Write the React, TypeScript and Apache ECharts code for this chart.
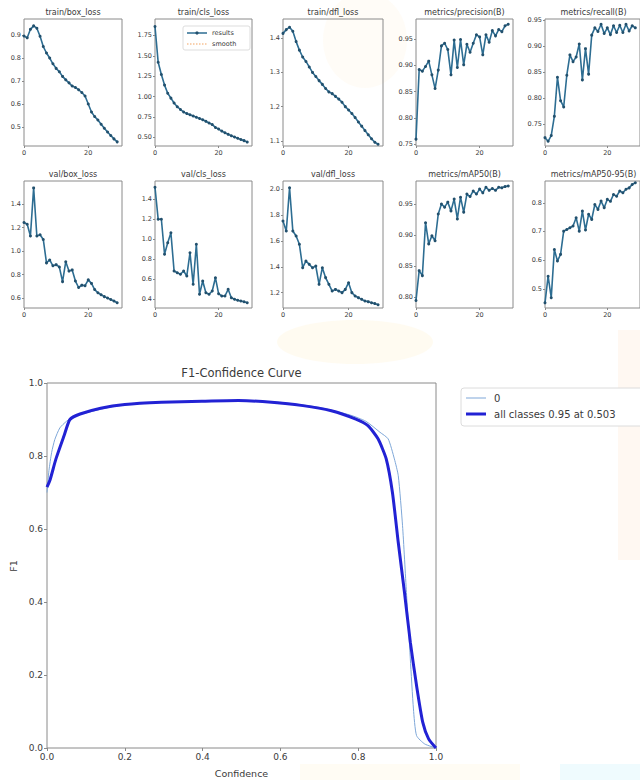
import React, { useEffect, useRef } from "react";
import * as echarts from "echarts";

const epochs = [0, 1, 2, 3, 4, 5, 6, 7, 8, 9, 10, 11, 12, 13, 14, 15, 16, 17, 18, 19, 20, 21, 22, 23, 24, 25, 26, 27, 28, 29];

const trainBoxLoss = [0.896, 0.888, 0.925, 0.94, 0.93, 0.895, 0.85, 0.822, 0.8, 0.775, 0.755, 0.74, 0.72, 0.705, 0.692, 0.678, 0.672, 0.662, 0.65, 0.635, 0.6, 0.565, 0.545, 0.53, 0.512, 0.494, 0.478, 0.463, 0.448, 0.435];
const trainClsLoss = [1.86, 1.42, 1.27, 1.14, 1.04, 0.98, 0.92, 0.875, 0.84, 0.81, 0.79, 0.775, 0.76, 0.745, 0.73, 0.715, 0.695, 0.675, 0.655, 0.62, 0.6, 0.575, 0.555, 0.535, 0.518, 0.502, 0.488, 0.472, 0.458, 0.44];
const trainDflLoss = [1.414, 1.425, 1.432, 1.42, 1.39, 1.365, 1.345, 1.332, 1.316, 1.3, 1.288, 1.276, 1.265, 1.253, 1.243, 1.238, 1.23, 1.222, 1.213, 1.2, 1.19, 1.18, 1.168, 1.155, 1.143, 1.13, 1.118, 1.106, 1.096, 1.09];
const precisionB = [0.76, 0.892, 0.889, 0.898, 0.908, 0.882, 0.856, 0.891, 0.937, 0.942, 0.93, 0.882, 0.948, 0.896, 0.949, 0.901, 0.94, 0.925, 0.942, 0.958, 0.954, 0.92, 0.958, 0.944, 0.966, 0.956, 0.968, 0.964, 0.975, 0.978];
const recallB = [0.724, 0.717, 0.728, 0.765, 0.84, 0.795, 0.783, 0.844, 0.883, 0.87, 0.879, 0.904, 0.835, 0.895, 0.846, 0.921, 0.935, 0.928, 0.942, 0.924, 0.935, 0.922, 0.939, 0.926, 0.94, 0.926, 0.942, 0.929, 0.939, 0.935];
const valBoxLoss = [1.245, 1.23, 1.13, 1.54, 1.13, 1.14, 1.1, 0.9, 0.925, 0.875, 0.885, 0.865, 0.74, 0.91, 0.83, 0.84, 0.745, 0.69, 0.71, 0.705, 0.755, 0.725, 0.672, 0.645, 0.628, 0.612, 0.6, 0.588, 0.575, 0.56];
const valClsLoss = [1.52, 1.2, 1.2, 0.85, 0.966, 1.066, 0.683, 0.666, 0.65, 0.683, 0.633, 0.866, 0.55, 0.95, 0.45, 0.583, 0.466, 0.45, 0.483, 0.616, 0.456, 0.433, 0.433, 0.5, 0.416, 0.4, 0.39, 0.383, 0.376, 0.366];
const valDflLoss = [1.754, 1.677, 2.012, 1.677, 1.638, 1.574, 1.393, 1.445, 1.419, 1.393, 1.406, 1.264, 1.393, 1.316, 1.264, 1.212, 1.225, 1.212, 1.2, 1.225, 1.277, 1.2, 1.174, 1.161, 1.148, 1.135, 1.13, 1.122, 1.115, 1.106];
const mAP50B = [0.795, 0.843, 0.835, 0.92, 0.886, 0.899, 0.891, 0.934, 0.95, 0.945, 0.953, 0.939, 0.958, 0.926, 0.961, 0.937, 0.966, 0.962, 0.971, 0.966, 0.974, 0.968, 0.977, 0.972, 0.975, 0.972, 0.977, 0.976, 0.978, 0.979];
const mAP5095B = [0.451, 0.544, 0.469, 0.637, 0.597, 0.62, 0.701, 0.707, 0.713, 0.719, 0.748, 0.701, 0.771, 0.705, 0.76, 0.742, 0.794, 0.777, 0.806, 0.783, 0.812, 0.805, 0.829, 0.823, 0.841, 0.835, 0.847, 0.852, 0.864, 0.87];

// F1-Confidence curve, class "0"
const conf0 = [0, 0.005, 0.012, 0.02, 0.033, 0.05, 0.07, 0.1, 0.15, 0.2, 0.3, 0.4, 0.5, 0.6, 0.7, 0.78, 0.82, 0.856, 0.877, 0.893, 0.903, 0.914, 0.924, 0.934, 0.942, 0.95, 0.971, 1.0];
const f10 = [0.7, 0.76, 0.81, 0.845, 0.877, 0.895, 0.908, 0.918, 0.931, 0.94, 0.947, 0.95, 0.952, 0.947, 0.933, 0.912, 0.895, 0.865, 0.847, 0.792, 0.746, 0.609, 0.426, 0.244, 0.107, 0.034, 0.011, 0.0];
// all classes
const confAll = [0, 0.008, 0.023, 0.044, 0.059, 0.085, 0.138, 0.2, 0.294, 0.398, 0.492, 0.554, 0.658, 0.731, 0.794, 0.825, 0.851, 0.872, 0.888, 0.903, 0.919, 0.934, 0.95, 0.966, 0.981, 1.0];
const f1All = [0.715, 0.735, 0.792, 0.856, 0.9, 0.915, 0.931, 0.941, 0.947, 0.95, 0.952, 0.949, 0.938, 0.924, 0.901, 0.883, 0.847, 0.792, 0.7, 0.563, 0.426, 0.29, 0.171, 0.07, 0.025, 0.0];

const xTicks = [0, 20];
const mainLegend = ["0", "all classes 0.95 at 0.503"];
const smallLegend = ["results", "smooth"];

const FONT = "'DejaVu Sans', sans-serif";
const TXT = "#3a3a3a";
const FRAME = "#8a8a8a";

const panels = [
  { title: "train/box_loss", data: trainBoxLoss, yMin: 0.417, yMax: 0.97, step: 0.1, dec: 1, left: 24, top: 19, width: 98 },
  { title: "train/cls_loss", data: trainClsLoss, yMin: 0.392, yMax: 1.952, step: 0.25, dec: 2, left: 155, top: 19, width: 97 },
  { title: "train/dfl_loss", data: trainDflLoss, yMin: 1.085, yMax: 1.456, step: 0.1, dec: 1, left: 283, top: 19, width: 100 },
  { title: "metrics/precision(B)", data: precisionB, yMin: 0.747, yMax: 0.988, step: 0.05, dec: 2, left: 416, top: 19, width: 97 },
  { title: "metrics/recall(B)", data: recallB, yMin: 0.708, yMax: 0.952, step: 0.05, dec: 2, left: 545, top: 19, width: 97 },
  { title: "val/box_loss", data: valBoxLoss, yMin: 0.515, yMax: 1.599, step: 0.2, dec: 1, left: 24, top: 181, width: 98 },
  { title: "val/cls_loss", data: valClsLoss, yMin: 0.313, yMax: 1.583, step: 0.2, dec: 1, left: 155, top: 181, width: 97 },
  { title: "val/dfl_loss", data: valDflLoss, yMin: 1.081, yMax: 2.064, step: 0.2, dec: 1, left: 283, top: 181, width: 100 },
  { title: "metrics/mAP50(B)", data: mAP50B, yMin: 0.783, yMax: 0.987, step: 0.05, dec: 2, left: 416, top: 181, width: 97 },
  { title: "metrics/mAP50-95(B)", data: mAP5095B, yMin: 0.433, yMax: 0.876, step: 0.1, dec: 1, left: 545, top: 181, width: 97 },
];
const PANEL_H = 127;
const MAIN = { left: 47, top: 383, width: 389, height: 365 };

function buildOption() {
  const grids: any[] = [];
  const xAxes: any[] = [];
  const yAxes: any[] = [];
  const series: any[] = [];
  const graphic: any[] = [];

  // very faint watermark tints
  graphic.push(
    { type: "ellipse", shape: { cx: 365, cy: 40, rx: 42, ry: 48 }, style: { fill: "rgba(255,205,90,0.05)" }, z: -1, silent: true },
    { type: "ellipse", shape: { cx: 355, cy: 342, rx: 78, ry: 22 }, style: { fill: "rgba(255,212,120,0.10)" }, z: -1, silent: true },
    { type: "rect", shape: { x: 618, y: 330, width: 22, height: 230 }, style: { fill: "rgba(250,180,110,0.09)" }, z: -1, silent: true },
    { type: "rect", shape: { x: 300, y: 764, width: 220, height: 16 }, style: { fill: "rgba(255,220,130,0.09)" }, z: -1, silent: true },
    { type: "rect", shape: { x: 560, y: 764, width: 80, height: 16 }, style: { fill: "rgba(140,225,245,0.14)" }, z: -1, silent: true }
  );

  panels.forEach((p, i) => {
    grids.push({ left: p.left, top: p.top, width: p.width, height: PANEL_H, show: true, borderColor: FRAME, borderWidth: 1, backgroundColor: "transparent" });
    xAxes.push({
      type: "value", gridIndex: i, min: 0, max: 30.5, interval: 20,
      axisLine: { show: false }, splitLine: { show: false },
      axisTick: { show: true, length: 2, lineStyle: { color: FRAME } },
      axisLabel: {
        fontSize: 6.5, color: TXT, fontFamily: FONT, margin: 3, showMaxLabel: false,
        formatter: (v: number) => (xTicks.indexOf(v) >= 0 ? String(v) : ""),
      },
    });
    const step = p.step;
    const dec = p.dec;
    yAxes.push({
      type: "value", gridIndex: i, min: p.yMin, max: p.yMax, minInterval: step, maxInterval: step, splitNumber: 5,
      axisLine: { show: false }, splitLine: { show: false },
      axisTick: { show: true, length: 2, lineStyle: { color: FRAME } },
      axisLabel: {
        fontSize: 6.5, color: TXT, fontFamily: FONT, margin: 3, showMinLabel: false, showMaxLabel: false,
        formatter: (v: number) => {
          const k = v / step;
          return Math.abs(k - Math.round(k)) < 1e-6 ? v.toFixed(dec) : "";
        },
      },
    });
    series.push({
      type: "line", name: smallLegend[0], xAxisIndex: i, yAxisIndex: i,
      data: epochs.map((e, j) => [e, p.data[j]]),
      symbol: "circle", symbolSize: 3, showSymbol: true,
      lineStyle: { color: "#2d6d92", width: 1.6 },
      itemStyle: { color: "#22506d" },
      emphasis: { disabled: true }, z: 3,
    });
    graphic.push({
      type: "text", x: p.left + p.width / 2, y: p.top - 7,
      style: { text: p.title, fontSize: 8, fontFamily: FONT, fill: TXT, textAlign: "center", align: "center", textVerticalAlign: "middle", verticalAlign: "middle" },
    });
  });

  // legend inside train/cls_loss
  graphic.push(
    { type: "rect", shape: { x: 183, y: 26, width: 67, height: 24, r: 2 }, style: { fill: "rgba(255,255,255,0.85)", stroke: "#dddddd", lineWidth: 1 }, z: 5 },
    { type: "line", shape: { x1: 187, y1: 33, x2: 207, y2: 33 }, style: { stroke: "#2d6d92", lineWidth: 1.5 }, z: 6 },
    { type: "circle", shape: { cx: 197, cy: 33, r: 1.6 }, style: { fill: "#22506d" }, z: 6 },
    { type: "line", shape: { x1: 187, y1: 44, x2: 207, y2: 44 }, style: { stroke: "#f4a460", lineWidth: 1.2, lineDash: [1.5, 1.5] }, z: 6 },
    { type: "text", x: 212, y: 33, style: { text: smallLegend[0], fontSize: 6.5, fontFamily: FONT, fill: TXT, textVerticalAlign: "middle", verticalAlign: "middle" }, z: 6 },
    { type: "text", x: 212, y: 44, style: { text: smallLegend[1], fontSize: 6.5, fontFamily: FONT, fill: TXT, textVerticalAlign: "middle", verticalAlign: "middle" }, z: 6 }
  );

  // main F1 chart
  const mi = panels.length;
  grids.push({ left: MAIN.left, top: MAIN.top, width: MAIN.width, height: MAIN.height, show: true, borderColor: FRAME, borderWidth: 1, backgroundColor: "transparent" });
  xAxes.push({
    type: "value", gridIndex: mi, min: 0, max: 1, interval: 0.2,
    axisLine: { show: false }, splitLine: { show: false },
    axisTick: { show: true, length: 3, lineStyle: { color: FRAME } },
    axisLabel: { fontSize: 9, color: TXT, fontFamily: FONT, margin: 4, formatter: (v: number) => v.toFixed(1) },
  });
  yAxes.push({
    type: "value", gridIndex: mi, min: 0, max: 1, interval: 0.2,
    axisLine: { show: false }, splitLine: { show: false },
    axisTick: { show: true, length: 3, lineStyle: { color: FRAME } },
    axisLabel: { fontSize: 9, color: TXT, fontFamily: FONT, margin: 4, formatter: (v: number) => v.toFixed(1) },
  });
  series.push({
    type: "line", name: mainLegend[0], xAxisIndex: mi, yAxisIndex: mi,
    data: conf0.map((c, j) => [c, f10[j]]),
    showSymbol: false, smooth: 0.2,
    lineStyle: { color: "#7ea7d8", width: 1 }, emphasis: { disabled: true }, z: 3,
  });
  series.push({
    type: "line", name: mainLegend[1], xAxisIndex: mi, yAxisIndex: mi,
    data: confAll.map((c, j) => [c, f1All[j]]),
    showSymbol: false, smooth: 0.2,
    lineStyle: { color: "#2222d4", width: 3 }, emphasis: { disabled: true }, z: 4,
  });

  graphic.push(
    { type: "text", x: MAIN.left + MAIN.width / 2, y: 373, style: { text: "F1-Confidence Curve", fontSize: 11.5, fontFamily: FONT, fill: TXT, textAlign: "center", align: "center", textVerticalAlign: "middle", verticalAlign: "middle" } },
    { type: "text", x: MAIN.left + MAIN.width / 2, y: 773, style: { text: "Confidence", fontSize: 9.5, fontFamily: FONT, fill: TXT, textAlign: "center", align: "center", textVerticalAlign: "middle", verticalAlign: "middle" } },
    { type: "text", x: 13, y: 566, rotation: Math.PI / 2, style: { text: "F1", fontSize: 9.5, fontFamily: FONT, fill: TXT, textAlign: "center", align: "center", textVerticalAlign: "middle", verticalAlign: "middle" } },
    { type: "rect", shape: { x: 461, y: 388, width: 190, height: 38, r: 3 }, style: { fill: "#ffffff", stroke: "#dcdcdc", lineWidth: 1 }, z: 5 },
    { type: "line", shape: { x1: 466, y1: 398, x2: 486, y2: 398 }, style: { stroke: "#7ea7d8", lineWidth: 1 }, z: 6 },
    { type: "line", shape: { x1: 466, y1: 414, x2: 486, y2: 414 }, style: { stroke: "#2222d4", lineWidth: 3 }, z: 6 },
    { type: "text", x: 494, y: 398, style: { text: mainLegend[0], fontSize: 10, fontFamily: FONT, fill: TXT, textVerticalAlign: "middle", verticalAlign: "middle" }, z: 6 },
    { type: "text", x: 494, y: 414, style: { text: mainLegend[1], fontSize: 10, fontFamily: FONT, fill: TXT, textVerticalAlign: "middle", verticalAlign: "middle" }, z: 6 }
  );

  return {
    animation: false,
    backgroundColor: "#ffffff",
    grid: grids,
    xAxis: xAxes,
    yAxis: yAxes,
    series,
    graphic,
  };
}

export default function App() {
  const ref = useRef<HTMLDivElement>(null);
  useEffect(() => {
    if (!ref.current) return;
    const chart = echarts.init(ref.current, undefined, { renderer: "svg" });
    chart.setOption(buildOption() as any);
    return () => chart.dispose();
  }, []);
  return <div ref={ref} style={{ position: "fixed", left: 0, top: 0, width: 640, height: 780 }} />;
}
